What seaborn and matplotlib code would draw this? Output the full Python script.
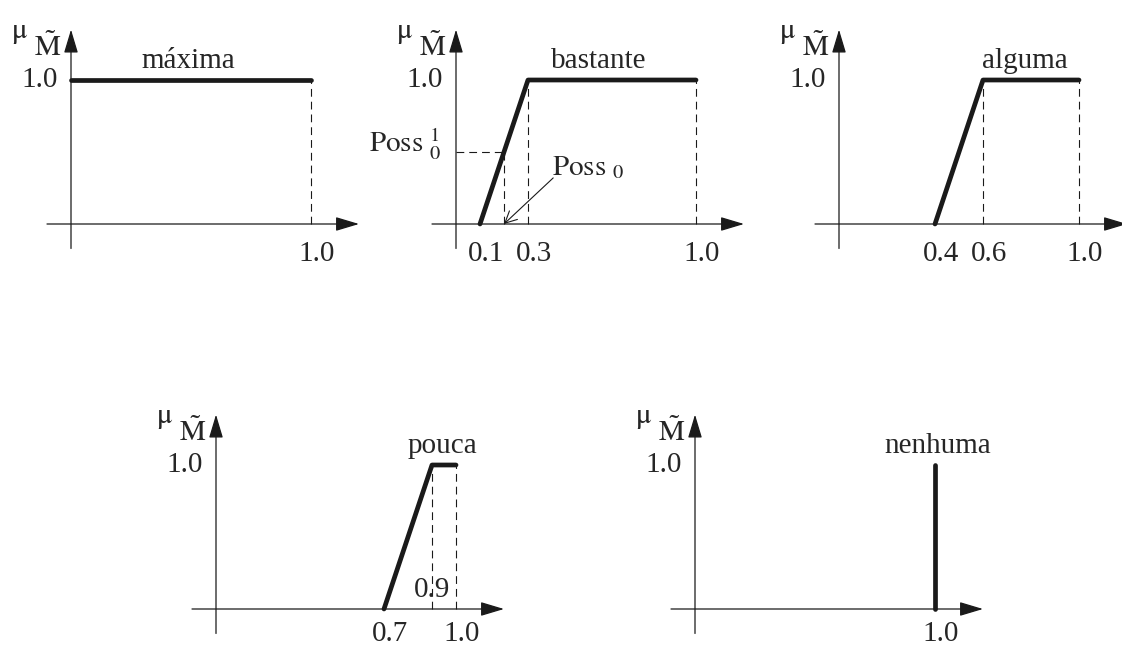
import matplotlib
matplotlib.use("Agg")
import matplotlib.pyplot as plt
import seaborn as sns

# membership functions (x, mu)
maxima_x = [0.0, 1.0]
maxima_y = [1.0, 1.0]
bastante_x = [0.1, 0.3, 1.0]
bastante_y = [0.0, 1.0, 1.0]
alguma_x = [0.4, 0.6, 1.0]
alguma_y = [0.0, 1.0, 1.0]
pouca_x = [0.7, 0.9, 1.0]
pouca_y = [0.0, 1.0, 1.0]
nenhuma_x = [1.0, 1.0]
nenhuma_y = [0.0, 1.0]

names = ["máxima", "bastante", "alguma", "pouca", "nenhuma"]
xs = [maxima_x, bastante_x, alguma_x, pouca_x, nenhuma_x]
ys = [maxima_y, bastante_y, alguma_y, pouca_y, nenhuma_y]
dashed_at = [[1.0], [0.3, 1.0], [0.6, 1.0], [0.9, 1.0], []]
xtick_vals = [[1.0], [0.1, 0.3, 1.0], [0.4, 0.6, 1.0], [0.7, 1.0], [1.0]]
xtick_labels = [["1.0"], ["0.1", "0.3", "1.0"], ["0.4", "0.6", "1.0"], ["0.7", "1.0"], ["1.0"]]
name_x = [0.49, 0.595, 0.775, 0.945, 1.01]

# pixel origin of each small diagram
origins = [(71, 224), (456, 224), (839, 224), (216, 609), (695, 609)]

sns.set_theme(style="white")
plt.rcParams["font.family"] = ["Liberation Serif", "DejaVu Serif"]
plt.rcParams["mathtext.fontset"] = "stix"

W, H = 1122, 647
fig = plt.figure(figsize=(W / 100, H / 100), dpi=100)

SX, SY = 240, 144
X0, X1 = -0.3, 1.3
Y0, Y1 = -0.3, 1.45
FS = 21
dash = (0, (7, 4.5))

for i, (ox, oy) in enumerate(origins):
    left = (ox + X0 * SX) / W
    bottom = 1 - (oy - Y0 * SY) / H
    ax = fig.add_axes([left, bottom, (X1 - X0) * SX / W, (Y1 - Y0) * SY / H])
    ax.set_xlim(X0, X1)
    ax.set_ylim(Y0, Y1)
    ax.axis("off")

    # axes with arrows
    arr = dict(arrowstyle="-|>,head_length=1.0,head_width=0.3", lw=0.9,
               color="k", mutation_scale=14.5, shrinkA=0, shrinkB=0)
    ax.annotate("", xy=(1.2, 0), xytext=(-0.1, 0), arrowprops=arr, annotation_clip=False)
    ax.annotate("", xy=(0, 1.35), xytext=(0, -0.17), arrowprops=arr, annotation_clip=False)

    for xv in dashed_at[i]:
        ax.plot([xv, xv], [0, 1], color="k", lw=0.8, ls=dash)

    sns.lineplot(x=xs[i], y=ys[i], ax=ax, color="k", lw=3.4, sort=False,
                 estimator=None, legend=False)

    ax.text(-0.215, 1.29, r"$\mathrm{\mu}$", fontsize=21, ha="center", va="baseline")
    ax.text(-0.096, 1.17, r"$\tilde{\mathrm{M}}$", fontsize=FS, ha="center", va="baseline")
    ax.text(-0.055, 1.0, "1.0", fontsize=FS, ha="right", va="center")
    ax.text(name_x[i], 1.08, names[i], fontsize=FS, ha="center", va="baseline")

    tick_y = -0.26 if oy < 400 else -0.225
    for xv, lab in zip(xtick_vals[i], xtick_labels[i]):
        ax.text(xv + 0.025, tick_y, lab, fontsize=FS, ha="center", va="baseline")

    if names[i] == "bastante":
        ax.plot([0, 0.2], [0.5, 0.5], color="k", lw=0.8, ls=dash)
        ax.plot([0.2, 0.2], [0, 0.5], color="k", lw=0.8, ls=dash)
        ax.text(-0.06, 0.5, r"$\mathrm{Poss}\ {}^{1}_{0}$", fontsize=FS,
                ha="right", va="baseline")
        ax.text(0.40, 0.34, r"$\mathrm{Poss}\ _{0}$", fontsize=FS,
                ha="left", va="baseline")
        ax.annotate("", xy=(0.2, 0.0), xytext=(0.405, 0.32),
                    arrowprops=dict(arrowstyle="->,head_length=0.6,head_width=0.3",
                                    lw=0.8, color="k", shrinkA=0, shrinkB=0,
                                    mutation_scale=14))
    if names[i] == "pouca":
        ax.text(0.9, 0.08, "0.9", fontsize=FS, ha="center", va="baseline")

fig.savefig("out.png", dpi=100, facecolor="white")
